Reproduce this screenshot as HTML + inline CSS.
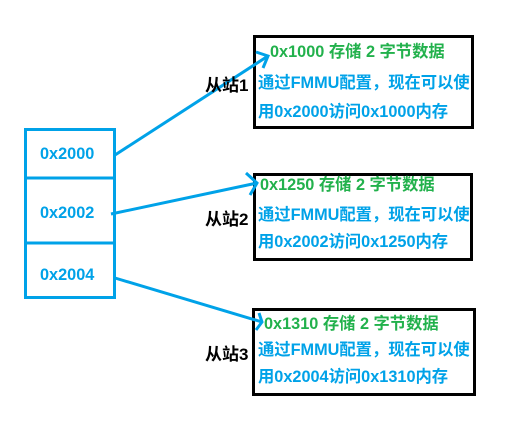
<!DOCTYPE html>
<html><head><meta charset="utf-8"><style>
body{margin:0;width:526px;height:424px;background:#fff;position:relative;overflow:hidden;font-family:"Liberation Sans","Noto Sans CJK SC",sans-serif;font-weight:bold;}
.t{position:absolute;font-size:16.3px;white-space:nowrap;line-height:18px;}
.g{color:#22b14c}.b{color:#00a2e8}.k{color:#000;font-size:17px}
.box{position:absolute;border:3px solid #000;box-sizing:border-box;}
</style></head><body>
<div class="box" style="left:253px;top:35px;width:221px;height:94px"></div>
<div class="box" style="left:253px;top:173px;width:220px;height:88px"></div>
<div class="box" style="left:252px;top:308px;width:224px;height:88px"></div>
<svg width="526" height="424" style="position:absolute;left:0;top:0">
<g fill="none" stroke="#00a2e8" stroke-width="3">
<rect x="25.5" y="129.5" width="89" height="168"/>
<line x1="25" y1="178" x2="115" y2="178"/>
<line x1="25" y1="243" x2="115" y2="243"/>
<line x1="115" y1="155" x2="268" y2="56"/>
<polyline points="256,52 268,56 263,68"/>
<line x1="111" y1="214" x2="257" y2="183"/>
<polyline points="246,173 257,183 250,195"/>
<line x1="115" y1="278" x2="262" y2="322"/>
<polyline points="259,313 262,322 256,330"/>
</g></svg>
<div class="t b" style="left:40px;top:145px">0x2000</div>
<div class="t b" style="left:40px;top:204px">0x2002</div>
<div class="t b" style="left:40px;top:266px">0x2004</div>
<div class="t k" style="left:205px;top:77px">从站1</div>
<div class="t k" style="left:205px;top:211px">从站2</div>
<div class="t k" style="left:205px;top:346px">从站3</div>
<div class="t g" style="left:270px;top:43px">0x1000 存储 2 字节数据</div>
<div class="t b" style="left:258px;top:74px">通过FMMU配置，现在可以使</div>
<div class="t b" style="left:258px;top:103px">用0x2000访问0x1000内存</div>
<div class="t g" style="left:260px;top:176px">0x1250 存储 2 字节数据</div>
<div class="t b" style="left:258px;top:206px">通过FMMU配置，现在可以使</div>
<div class="t b" style="left:258px;top:233px">用0x2002访问0x1250内存</div>
<div class="t g" style="left:264px;top:315px">0x1310 存储 2 字节数据</div>
<div class="t b" style="left:258px;top:341px">通过FMMU配置，现在可以使</div>
<div class="t b" style="left:258px;top:368px">用0x2004访问0x1310内存</div>
</body></html>
